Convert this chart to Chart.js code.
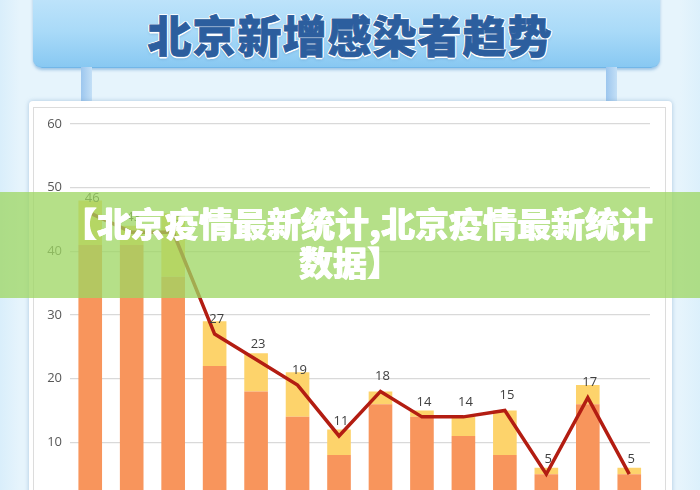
<!DOCTYPE html>
<html>
<head>
<meta charset="utf-8">
<script src="https://cdn.jsdelivr.net/npm/chart.js@4.4.1/dist/chart.umd.min.js"></script>
<style>
  html, body { margin: 0; padding: 0; }
  body { width: 700px; height: 490px; overflow: hidden; position: relative;
         background: linear-gradient(90deg, #d9eefb 0px, #e6f4fc 20px, #e6f4fc 680px, #dcf0fb 700px);
         font-family: "Noto Sans CJK SC", "Noto Sans", sans-serif; }
  #header { position: absolute; left: 33px; top: -12px; width: 627px; height: 79px;
            border-radius: 0 0 9px 9px;
            background: linear-gradient(180deg, #c4e6fb 0%, #a9daf8 55%, #88c8f2 100%);
            box-shadow: 0 2px 3px rgba(70,140,200,0.45); border-bottom: 1px solid #72b6e8; }
  #title { position: absolute; left: 0; top: 6px; width: 700px; text-align: center;
           font-size: 44px; font-weight: 900; line-height: 56px; color: #2c5e9e; letter-spacing: 1px;
           -webkit-text-stroke: 0.8px #2c5e9e;
           text-shadow: 1.5px 0 #fff, -1.5px 0 #fff, 0 1.5px #fff, 0 -1.5px #fff,
                        1px 1px #fff, -1px -1px #fff, 1px -1px #fff, -1px 1px #fff, 0 2px 3px rgba(40,90,150,0.4); }
  .pillar { position: absolute; top: 67px; width: 11px; height: 36px;
            background: linear-gradient(90deg, #9cc6ee, #c3dff6); }
  #panel { position: absolute; left: 29px; top: 101px; width: 643px; height: 420px; background: #fff;
           border-radius: 4px; box-shadow: 0 0 4px rgba(120,160,200,0.55); }
  #inner { position: absolute; left: 33px; top: 107px; width: 633px; height: 420px;
           border: 1px solid #dcdcdc; box-sizing: border-box; }
  #c { position: absolute; left: 0; top: 0; }
  #banner { position: absolute; left: 0; top: 192px; width: 700px; height: 106px;
            background: rgba(158, 214, 98, 0.76); }
  #banner div { position: absolute; left: 0; width: 700px; text-align: center; color: #fff;
                font-size: 34px; font-weight: 900; line-height: 38px; white-space: nowrap;
                text-shadow: 0.5px 0 #fff, -0.5px 0 #fff; }
</style>
</head>
<body>
<div id="header"></div>
<div id="title">北京新增感染者趋势</div>
<div class="pillar" style="left:81px"></div>
<div class="pillar" style="left:606px"></div>
<div id="panel"></div>
<div id="inner"></div>
<canvas id="c" width="700" height="530"></canvas>
<div id="banner">
  <div style="top:12px; left:8px">【北京疫情最新统计,北京疫情最新统计</div>
  <div style="top:51px">数据】</div>
</div>
<script>
const categories = ["1","2","3","4","5","6","7","8","9","10","11","12","13","14"];
const baseValues  = [41, 41, 36, 22, 18, 14, 8, 16, 14, 11, 8, 5, 16, 5];
const extraValues = [7, 3, 10, 7, 6, 7, 4, 2, 1, 3, 7, 1, 3, 1];
const lineValues  = [46, 43, 43, 27, 23, 19, 11, 18, 14, 14, 15, 5, 17, 5];
const yTicks = [0, 10, 20, 30, 40, 50, 60];

const lineLabels = {
  id: 'lineLabels',
  afterDatasetsDraw(chart) {
    const meta = chart.getDatasetMeta(2);
    const ctx = chart.ctx;
    ctx.save();
    ctx.font = '13px "Open Sans", "Liberation Sans", sans-serif';
    ctx.fillStyle = '#404040';
    ctx.textAlign = 'center';
    ctx.textBaseline = 'middle';
    meta.data.forEach((pt, i) => {
      ctx.fillText(String(lineValues[i]), pt.x + 2, pt.y - 15);
    });
    ctx.restore();
  }
};

new Chart(document.getElementById('c'), {
  type: 'bar',
  data: {
    labels: categories,
    datasets: [
      { type: 'bar', data: baseValues, backgroundColor: '#f8955c', stack: 'a', order: 1,
        categoryPercentage: 1, barPercentage: 0.57 },
      { type: 'bar', data: extraValues, backgroundColor: '#fdd36b', stack: 'a', order: 2,
        categoryPercentage: 1, barPercentage: 0.57 },
      { type: 'line', data: lineValues, borderColor: '#b31d12', borderWidth: 3.5, stack: 'b', order: 0,
        pointRadius: 0, tension: 0, fill: false, borderJoinStyle: 'miter' }
    ]
  },
  options: {
    responsive: false,
    animation: false,
    devicePixelRatio: 1,
    layout: { padding: { left: 39.5, right: 50, top: 124, bottom: 24 } },
    plugins: { legend: { display: false }, tooltip: { enabled: false }, title: { display: false } },
    scales: {
      x: { display: false, stacked: true },
      y: {
        stacked: true, min: 0, max: 60,
        afterFit(s) { s.width = 30; },
        afterBuildTicks(s) { s.ticks = yTicks.map(v => ({ value: v })); },
        border: { display: false },
        grid: { color: '#d9d9d9', lineWidth: 1.2, drawTicks: false },
        ticks: { padding: 7.5, color: '#595959', font: { size: 13, family: '"Open Sans", "Liberation Sans", sans-serif' } }
      }
    }
  },
  plugins: [lineLabels]
});
</script>
</body>
</html>
